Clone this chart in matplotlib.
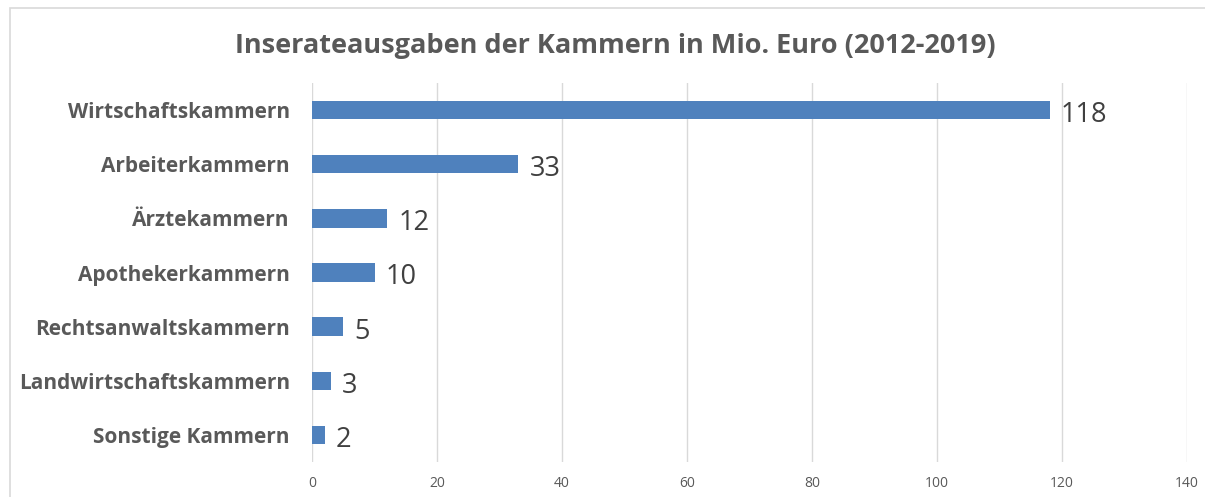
import matplotlib
matplotlib.use("Agg")
import matplotlib.pyplot as plt
from matplotlib.patches import Rectangle

categories = ["Wirtschaftskammern", "Arbeiterkammern", "Ärztekammern", "Apothekerkammern",
              "Rechtsanwaltskammern", "Landwirtschaftskammern", "Sonstige Kammern"]
values = [118, 33, 12, 10, 5, 3, 2]
xticks = [0, 20, 40, 60, 80, 100, 120, 140]
title = "Inserateausgaben der Kammern in Mio. Euro (2012-2019)"

W, H = 1205, 497
fig = plt.figure(figsize=(W / 100, H / 100), dpi=100)
fig.patch.set_facecolor("white")

# chart frame
fig.patches.append(Rectangle((10 / W, -0.1), 1.2, (H - 8) / H + 0.1, transform=fig.transFigure,
                             facecolor="none", edgecolor="#d9d9d9", linewidth=1.2))

left, right = 312 / W, 1187 / W
bottom, top = 1 - 462 / H, 1 - 83 / H
ax = fig.add_axes([left, bottom, right - left, top - bottom])

y = list(range(len(categories)))
ax.barh(y, values, height=0.34, color="#4f81bd", zorder=3)
ax.set_ylim(len(categories) - 0.5, -0.5)
ax.set_xlim(0, 140)
ax.set_xticks(xticks)
ax.set_xticklabels([str(t) for t in xticks], fontsize=10, color="#595959", family="Open Sans")
ax.set_yticks(y)
ax.set_yticklabels(categories, fontsize=15, fontweight="bold", color="#595959", family="Open Sans")
ax.tick_params(axis="both", length=0)
ax.tick_params(axis="y", pad=16)
ax.tick_params(axis="x", pad=10)
ax.grid(axis="x", color="#d9d9d9", linewidth=1, zorder=0)
for s in ax.spines.values():
    s.set_visible(False)

for yi, v in zip(y, values):
    ax.annotate(str(v), (v, yi), xytext=(8, -3.5), textcoords="offset points", va="center",
                ha="left", fontsize=19.5, color="#404040", family="Open Sans")

fig.text(615 / W, 1 - 46 / H, title, ha="center", va="center", fontsize=19.5,
         fontweight="bold", color="#595959", family="Open Sans")

fig.savefig("out.png", dpi=100)
